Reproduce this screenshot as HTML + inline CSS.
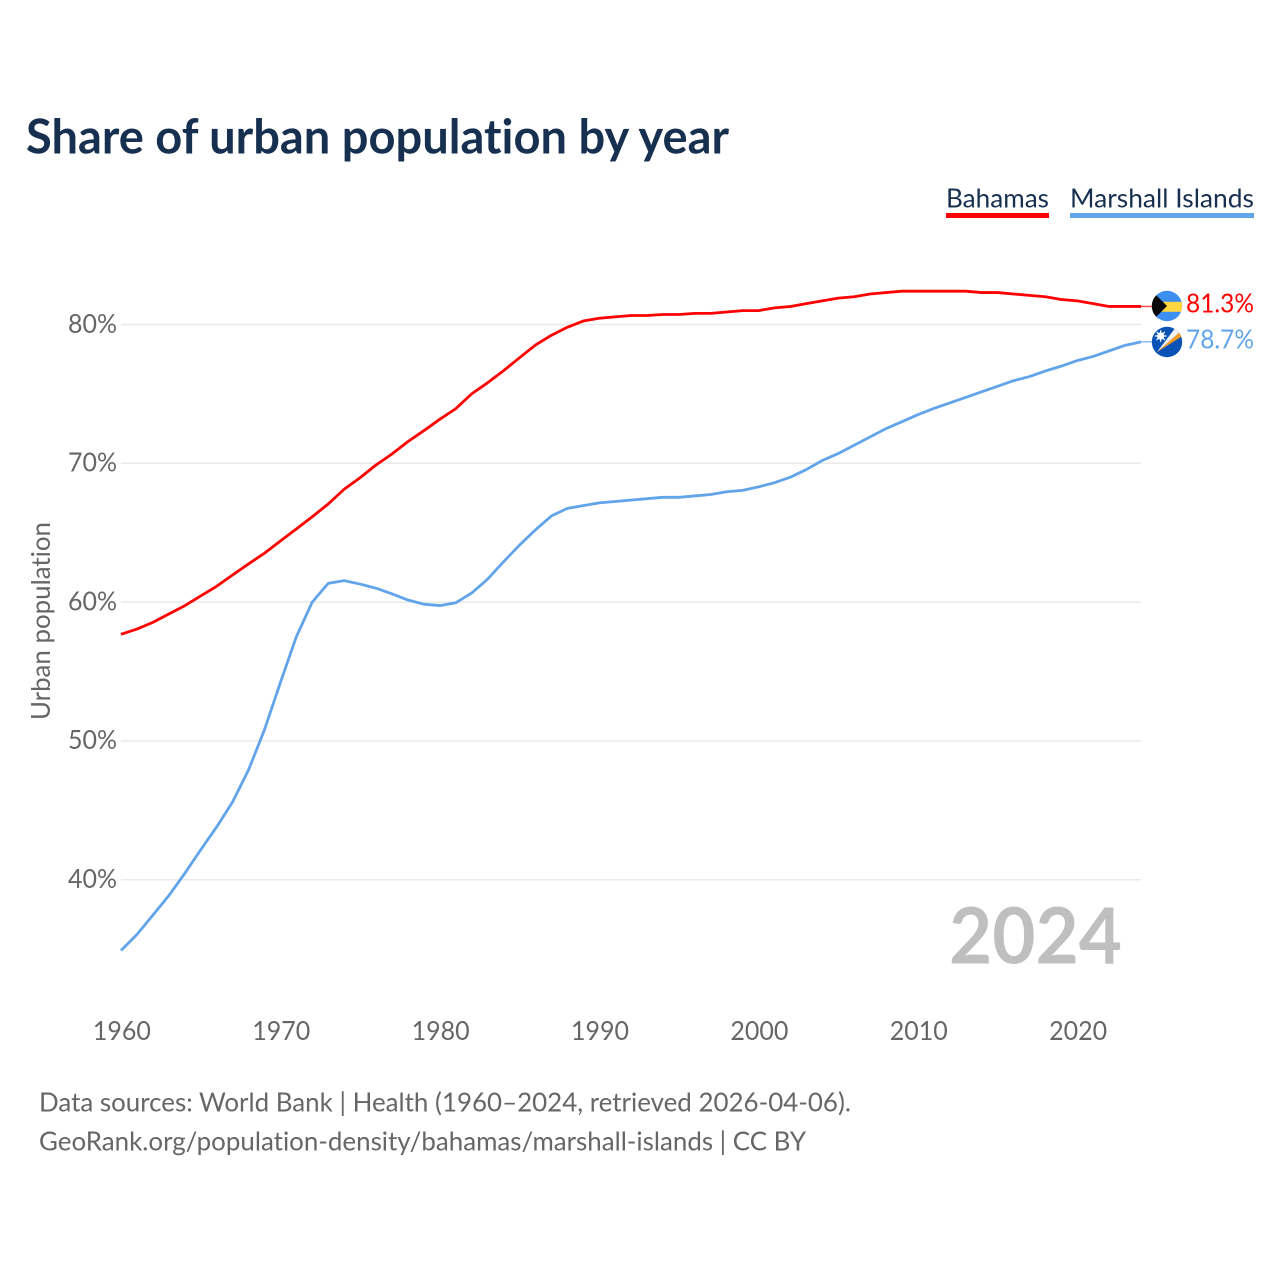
<!DOCTYPE html>
<html lang="en">
<head>
<meta charset="utf-8">
<title>Share of urban population by year</title>
<style>
html,body{margin:0;padding:0;background:#fff;width:1280px;height:1280px;overflow:hidden}
svg{display:block}
text{font-family:"Lato","Carlito","Liberation Sans",sans-serif;font-variant-ligatures:none;font-feature-settings:"liga" 0,"clig" 0}
</style>
</head>
<body>
<svg id="chart" xmlns="http://www.w3.org/2000/svg" width="1280" height="1280" viewBox="0 0 1280 1280">
  <rect width="1280" height="1280" fill="#fff"/>
  <text x="26" y="153.3" font-size="48" font-weight="700" fill="#17304f" textLength="703" lengthAdjust="spacingAndGlyphs">Share of urban population by year</text>

  <g>
    <text x="946" y="207.5" font-size="26" fill="#17304f" textLength="103" lengthAdjust="spacingAndGlyphs">Bahamas</text>
    <rect x="946" y="213" width="103" height="5" fill="#ff0000"/>
  </g>
  <g>
    <text x="1070" y="207.5" font-size="26" fill="#17304f" textLength="184" lengthAdjust="spacingAndGlyphs">Marshall Islands</text>
    <rect x="1070" y="213" width="184" height="5" fill="#62a4ea"/>
  </g>

  <g id="grid"></g>
  <g id="yticks"></g>
  <g id="xticks"></g>
  <text transform="translate(50,621) rotate(-90)" text-anchor="middle" font-size="26" fill="#666" textLength="198" lengthAdjust="spacingAndGlyphs">Urban population</text>

  <text x="1122" y="963.5" text-anchor="end" font-size="78" font-weight="700" fill="#bfbfbf" textLength="173" lengthAdjust="spacingAndGlyphs">2024</text>

  <g id="series"></g>

  <defs>
    <clipPath id="flag-clip-a"><circle cx="1167" cy="306" r="15.2"/></clipPath>
    <clipPath id="flag-clip-b"><circle cx="1167" cy="342" r="15.2"/></clipPath>
  </defs>
  <g clip-path="url(#flag-clip-a)">
    <rect x="1151" y="290" width="32" height="32" fill="#3d8fef"/>
    <rect x="1151" y="301.8" width="32" height="10" fill="#ffd540"/>
    <polygon points="1151,290 1167,306 1151,322" fill="#0a0a0a"/>
  </g>
  <g clip-path="url(#flag-clip-b)">
    <rect x="1151" y="326" width="32" height="32" fill="#0a52b5"/>
    <polygon points="1157,352 1181,331 1184,335" fill="#f59a23"/>
    <polygon points="1157,352 1176,327 1181,331" fill="#f2f2f2"/>
    <circle cx="1160.7" cy="336" r="3.6" fill="#fff"/>
    <path d="M1160.7 330.2V341.8M1154.9 336H1166.5M1156.6 331.9L1164.8 340.1M1164.8 331.9L1156.6 340.1" stroke="#fff" stroke-width="1.2"/>
  </g>

  <text x="1254" y="312.5" text-anchor="end" font-size="26" fill="#ff0000" textLength="68" lengthAdjust="spacingAndGlyphs">81.3%</text>
  <text x="1254" y="348.5" text-anchor="end" font-size="26" fill="#62a4ea" textLength="68" lengthAdjust="spacingAndGlyphs">78.7%</text>

  <text x="39" y="1111.5" font-size="26" fill="#666" textLength="812" lengthAdjust="spacingAndGlyphs">Data sources: World Bank | Health (1960–2024, retrieved 2026-04-06).</text>
  <text x="39" y="1150.5" font-size="26" fill="#666" textLength="767" lengthAdjust="spacingAndGlyphs">GeoRank.org/population-density/bahamas/marshall-islands | CC BY</text>
</svg>
<script>
const startYear = 1960;
const xTickYears = [1960, 1970, 1980, 1990, 2000, 2010, 2020];
const yTickValues = [40, 50, 60, 70, 80];
const bahamasValues = [57.68,58.06,58.54,59.14,59.74,60.44,61.14,61.95,62.75,63.52,64.4,65.27,66.15,67.07,68.13,68.96,69.88,70.67,71.56,72.35,73.17,73.93,75.0,75.8,76.67,77.6,78.52,79.22,79.8,80.25,80.45,80.55,80.65,80.65,80.72,80.72,80.8,80.8,80.9,81.0,81.0,81.2,81.3,81.5,81.7,81.9,82.0,82.2,82.3,82.4,82.4,82.4,82.4,82.4,82.3,82.3,82.2,82.1,82.0,81.8,81.7,81.5,81.3,81.3,81.3];
const marshallValues = [34.9,36.05,37.45,38.85,40.45,42.15,43.8,45.6,47.9,50.8,54.2,57.5,60.0,61.35,61.55,61.3,61.0,60.6,60.15,59.85,59.75,59.95,60.65,61.65,62.9,64.1,65.2,66.2,66.75,66.95,67.15,67.25,67.35,67.45,67.55,67.55,67.65,67.75,67.95,68.05,68.3,68.6,69.0,69.55,70.2,70.7,71.3,71.9,72.5,73.0,73.5,73.95,74.35,74.75,75.15,75.55,75.95,76.25,76.65,77.0,77.4,77.7,78.1,78.5,78.75];

const NS = 'http://www.w3.org/2000/svg';
function xScale(year) { return 121 + (year - 1960) * (1141 - 121) / 64; }
function yScale(v) { return 324.5 + (80 - v) * 13.88; }
function make(tag, attrs, parent) {
  const el = document.createElementNS(NS, tag);
  for (const k in attrs) el.setAttribute(k, attrs[k]);
  parent.appendChild(el);
  return el;
}
const grid = document.getElementById('grid');
const yticks = document.getElementById('yticks');
const xticks = document.getElementById('xticks');
const series = document.getElementById('series');

yTickValues.forEach(function (v) {
  const line = make('line', {x1: 121, x2: 1141, y1: yScale(v), y2: yScale(v), stroke: '#e9e9e9', 'stroke-width': 1.5}, grid);
  
  
  const t = make('text', {x: 117, y: yScale(v) + 8.3, 'text-anchor': 'end', 'font-size': 26, fill: '#666', textLength: 49, lengthAdjust: 'spacingAndGlyphs'}, yticks);
  t.textContent = v + '%';
  
  
});
xTickYears.forEach(function (y) {
  const t = make('text', {x: xScale(y) + 0.9, y: 1040, 'text-anchor': 'middle', 'font-size': 26, fill: '#666', textLength: 58, lengthAdjust: 'spacingAndGlyphs'}, xticks);
  t.textContent = y;
  
  
});
function points(values) {
  return values.map(function (v, i) {
    return xScale(startYear + i).toFixed(2) + ',' + yScale(v).toFixed(2);
  }).join(' ');
}
const redLine = make('polyline', {points: points(bahamasValues), fill: 'none', stroke: '#ff0000', 'stroke-width': 2.8, 'stroke-linejoin': 'round'}, series);


const blueLine = make('polyline', {points: points(marshallValues), fill: 'none', stroke: '#62a4ea', 'stroke-width': 2.8, 'stroke-linejoin': 'round'}, series);


const lastX = xScale(startYear + bahamasValues.length - 1);
const redLead = make('line', {x1: lastX, x2: lastX + 12, y1: yScale(bahamasValues[bahamasValues.length - 1]), y2: yScale(bahamasValues[bahamasValues.length - 1]), stroke: '#ff0000', 'stroke-width': 1.5, opacity: 0.7}, series);


const blueLead = make('line', {x1: lastX, x2: lastX + 12, y1: yScale(marshallValues[marshallValues.length - 1]), y2: yScale(marshallValues[marshallValues.length - 1]), stroke: '#62a4ea', 'stroke-width': 1.5, opacity: 0.7}, series);


</script>
</body>
</html>
